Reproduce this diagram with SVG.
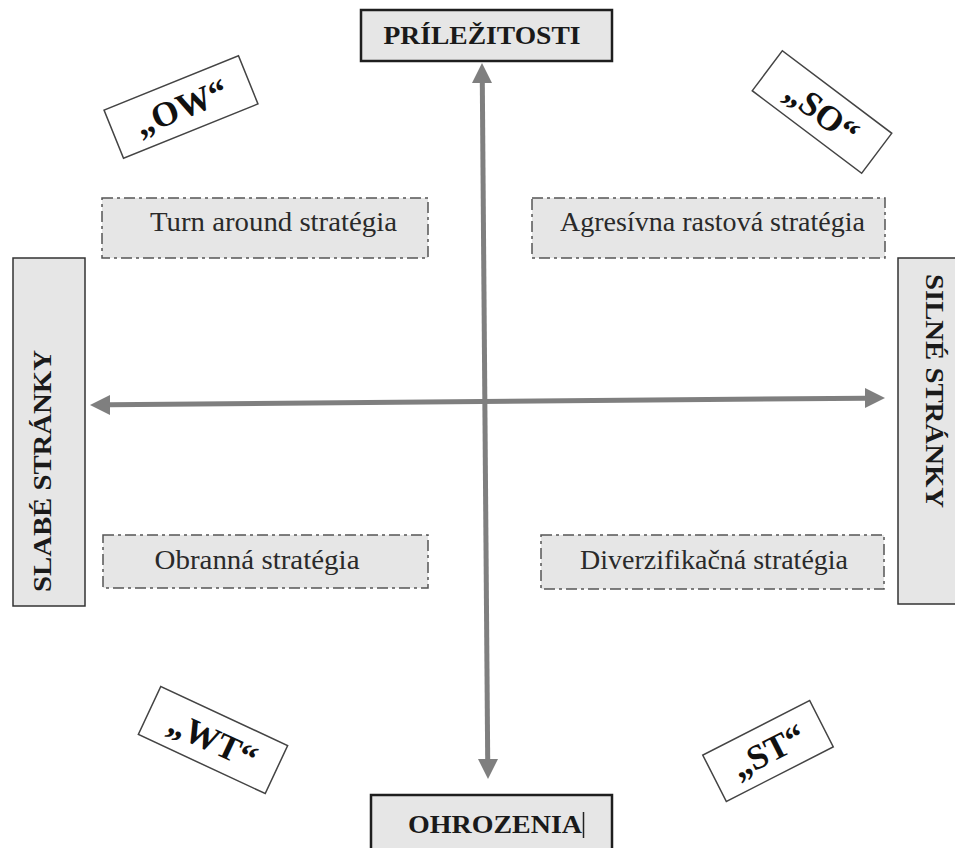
<svg xmlns="http://www.w3.org/2000/svg" width="955" height="848" viewBox="0 0 955 848">
<style>
.hdr{fill:#e6e6e6;stroke:#1e1e1e;stroke-width:2.5}
.side{fill:#e6e6e6;stroke:#333;stroke-width:1.5}
.bt{font-family:"Liberation Serif",serif;font-weight:bold;font-size:26px;fill:#1a1a1a;text-anchor:middle}
.strat{fill:#e6e6e6;stroke:#555;stroke-width:1.5;stroke-dasharray:11 4 3 4}
.st{font-family:"Liberation Serif",serif;font-size:27px;fill:#2a2a2a;text-anchor:middle}
.tag{fill:#fff;stroke:#444;stroke-width:1.5}
.tt{font-family:"Liberation Serif",serif;font-weight:bold;font-size:35px;fill:#111;text-anchor:middle}
.ax{stroke:#7f7f7f;stroke-width:5;fill:none}
.ah{fill:#7f7f7f}
</style>
<rect width="955" height="848" fill="#fff"/>
<g id="connectors">
<line class="ax" x1="482.3" y1="82" x2="487.7" y2="760"/>
<polygon class="ah" points="482,63 492,83 472,83"/>
<polygon class="ah" points="488,779 498,759 478,759"/>
<line class="ax" x1="109" y1="404.8" x2="866" y2="398.2"/>
<polygon class="ah" points="90,405 110,395 110,415"/>
<polygon class="ah" points="885,398 865,388 865,408"/>
</g>
<g id="prilezitosti">
<rect class="hdr" x="361" y="10" width="251" height="51"/>
<text class="bt" x="482" y="44" textLength="197" lengthAdjust="spacingAndGlyphs">PRÍLEŽITOSTI</text>
</g>
<g id="ohrozenia">
<rect class="hdr" x="371" y="795" width="241" height="70"/>
<text class="bt" x="495" y="833" textLength="174" lengthAdjust="spacingAndGlyphs">OHROZENIA</text>
<line x1="583.5" y1="812" x2="583.5" y2="838" stroke="#222" stroke-width="1.5"/>
</g>
<g id="slabe">
<rect class="side" x="13" y="258" width="72" height="348"/>
<text class="bt" transform="translate(51,471) rotate(-90)" textLength="242" lengthAdjust="spacingAndGlyphs">SLABÉ STRÁNKY</text>
</g>
<g id="silne">
<rect class="side" x="898" y="258" width="70" height="346"/>
<text class="bt" transform="translate(926,391) rotate(90)" textLength="234" lengthAdjust="spacingAndGlyphs">SILNÉ STRÁNKY</text>
</g>
<g id="turnaround">
<rect class="strat" x="102" y="198" width="326" height="60"/>
<text class="st" x="273.5" y="231" textLength="247" lengthAdjust="spacingAndGlyphs">Turn around stratégia</text>
</g>
<g id="agresivna">
<rect class="strat" x="532" y="198" width="353" height="60"/>
<text class="st" x="712.5" y="231" textLength="305" lengthAdjust="spacingAndGlyphs">Agresívna rastová stratégia</text>
</g>
<g id="obranna">
<rect class="strat" x="103" y="535" width="325" height="53"/>
<text class="st" x="257" y="569" textLength="205" lengthAdjust="spacingAndGlyphs">Obranná stratégia</text>
</g>
<g id="diverzifikacna">
<rect class="strat" x="541" y="535" width="343" height="54"/>
<text class="st" x="714" y="569" textLength="268" lengthAdjust="spacingAndGlyphs">Diverzifikačná stratégia</text>
</g>
<g id="ow" transform="translate(181,107) rotate(-22)">
<rect class="tag" x="-72.5" y="-26" width="145" height="52"/>
<text class="tt" x="0" y="12">„OW“</text>
</g>
<g id="so" transform="translate(822,112) rotate(37)">
<rect class="tag" x="-68.5" y="-25" width="137" height="50"/>
<text class="tt" x="0" y="12">„SO“</text>
</g>
<g id="wt" transform="translate(213,740) rotate(25)">
<rect class="tag" x="-70" y="-26.5" width="140" height="53"/>
<text class="tt" x="0" y="12">„WT“</text>
</g>
<g id="st" transform="translate(768,751) rotate(-27)">
<rect class="tag" x="-60" y="-26" width="120" height="52"/>
<text class="tt" x="0" y="12">„ST“</text>
</g>
</svg>
